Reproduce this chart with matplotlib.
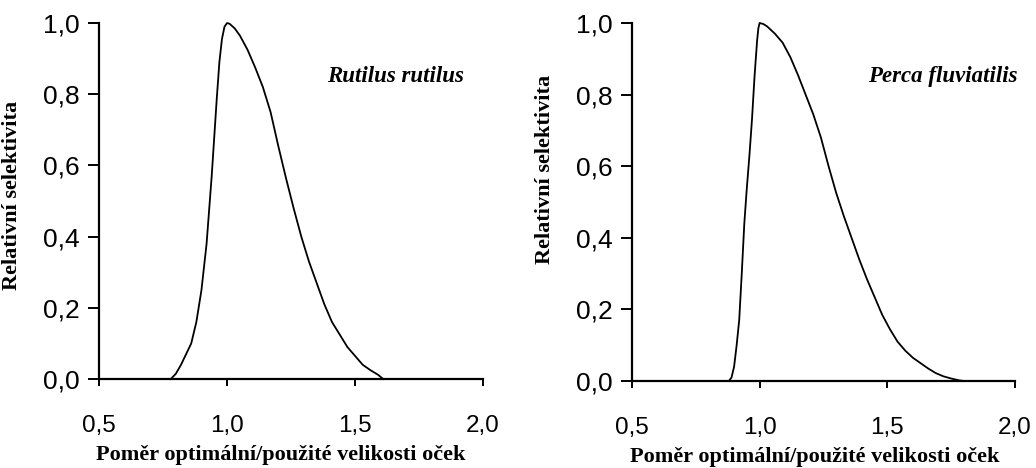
import matplotlib
matplotlib.use("Agg")
import matplotlib.pyplot as plt

# Rutilus rutilus - relative selectivity curve
rut_x = [0.78, 0.80, 0.82, 0.84, 0.86, 0.88, 0.90, 0.92, 0.94, 0.96, 0.97, 0.98,
         0.99, 1.00, 1.01, 1.03, 1.05, 1.08, 1.11, 1.14, 1.17, 1.20, 1.23, 1.26,
         1.29, 1.32, 1.35, 1.38, 1.41, 1.44, 1.47, 1.50, 1.53, 1.56, 1.59, 1.61]
rut_y = [0.0, 0.015, 0.04, 0.07, 0.10, 0.16, 0.25, 0.38, 0.57, 0.79, 0.89, 0.955,
         0.99, 1.0, 0.998, 0.985, 0.965, 0.925, 0.875, 0.82, 0.75, 0.655, 0.565,
         0.48, 0.40, 0.33, 0.27, 0.21, 0.16, 0.125, 0.09, 0.065, 0.04, 0.025,
         0.012, 0.0]

# Perca fluviatilis
per_x = [0.88, 0.89, 0.90, 0.91, 0.92, 0.93, 0.94, 0.95, 0.96, 0.97, 0.98, 0.99,
         0.995, 1.00, 1.015, 1.03, 1.06, 1.09, 1.12, 1.15, 1.18, 1.21, 1.24, 1.27,
         1.30, 1.33, 1.36, 1.39, 1.42, 1.45, 1.48, 1.51, 1.54, 1.57, 1.60, 1.63,
         1.66, 1.69, 1.72, 1.75, 1.78, 1.80]
per_y = [0.0, 0.01, 0.04, 0.10, 0.17, 0.30, 0.44, 0.54, 0.63, 0.73, 0.85, 0.95,
         0.985, 1.0, 0.997, 0.99, 0.97, 0.945, 0.905, 0.855, 0.80, 0.745, 0.68,
         0.60, 0.525, 0.46, 0.40, 0.34, 0.285, 0.235, 0.185, 0.145, 0.11, 0.085,
         0.065, 0.05, 0.035, 0.022, 0.013, 0.007, 0.002, 0.0]

xticks = [0.5, 1.0, 1.5, 2.0]
yticks = [0.0, 0.2, 0.4, 0.6, 0.8, 1.0]
xlabel = "Poměr optimální/použité velikosti oček"
ylabel = "Relativní selektivita"

fig = plt.figure(figsize=(10.36, 4.68), dpi=100)
ax1 = fig.add_axes([0.0956, 0.190, 0.3707, 0.7607])
ax2 = fig.add_axes([0.610, 0.1859, 0.3697, 0.765])

panels = [
    (ax1, rut_x, rut_y, "Rutilus rutilus", 1.39, 0.517, 0.474),
    (ax2, per_x, per_y, "Perca fluviatilis", 1.424, 0.59, 0.478),
]

for ax, xs, ys, name, name_x, ylab_y, xlab_x in panels:
    ax.plot(xs, ys, color="black", lw=1.3, clip_on=False)
    ax.set_xlim(0.5, 2.0)
    ax.set_ylim(0.0, 1.0)
    ax.spines["top"].set_visible(False)
    ax.spines["right"].set_visible(False)
    ax.spines["left"].set_linewidth(1.6)
    ax.spines["bottom"].set_linewidth(1.6)

    ax.set_xticks(xticks)
    ax.set_yticks(yticks)
    ax.set_xticklabels([f"{v:.1f}".replace(".", ",") for v in xticks],
                       family="Liberation Sans", fontsize=17.5)
    ax.set_yticklabels([f"{v:.1f}".replace(".", ",") for v in yticks],
                       family="Liberation Sans", fontsize=19)
    ax.tick_params(axis="x", direction="out", length=5, width=1.4, pad=21)
    ax.tick_params(axis="y", direction="out", length=8, width=1.4, pad=6)

    ax.set_xlabel(xlabel, family="Liberation Serif", fontweight="bold", fontsize=16)
    ax.set_ylabel(ylabel, family="Liberation Serif", fontweight="bold", fontsize=16)
    ax.xaxis.label.set_va("center")
    ax.xaxis.set_label_coords(xlab_x, -0.213)
    ax.yaxis.set_label_coords(-0.2, ylab_y)

    ax.text(name_x, 0.85, name, family="Liberation Serif", fontweight="bold",
            style="italic", fontsize=16.5, va="center", ha="left")

fig.savefig("out.png", dpi=100)
